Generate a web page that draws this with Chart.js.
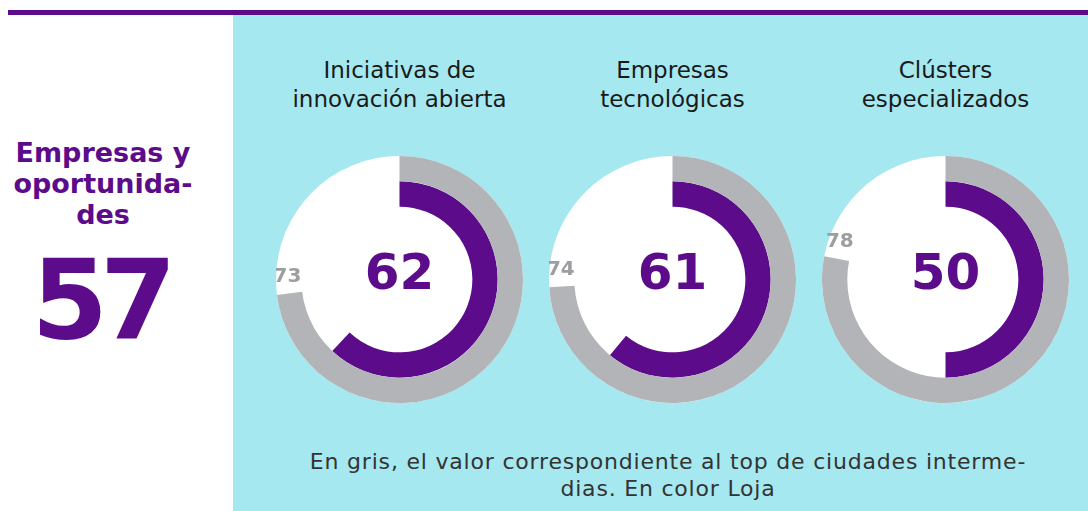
<!DOCTYPE html>
<html>
<head>
<meta charset="utf-8">
<script src="https://cdn.jsdelivr.net/npm/chart.js@4.4.1/dist/chart.umd.min.js"></script>
<style>
  body { margin: 0; width: 1088px; height: 511px; background: #fff; position: relative; overflow: hidden; font-family: "DejaVu Sans", sans-serif; }
  .topline { position: absolute; left: 8px; top: 10px; width: 1080px; height: 5px; background: #5c0b8a; }
  .panel { position: absolute; left: 233px; top: 15px; right: 0; bottom: 0; background: #a6e8f0; }
  .side { position: absolute; left: 0; width: 206px; text-align: center; color: #5c0b8a; font-weight: bold; }
  .side-title { top: 137px; font-size: 27px; line-height: 31px; }
  .side-value { top: 240px; font-size: 110px; line-height: 120px; letter-spacing: -8px; text-indent: -6px; }
  .title { position: absolute; top: 56px; width: 280px; text-align: center; font-size: 23px; line-height: 29px; color: #1a1a1a; }
  .donut { position: absolute; top: 156px; width: 247px; height: 247px; }
  .note { position: absolute; left: 250px; width: 836px; top: 448px; text-align: center; font-size: 22px; line-height: 27px; letter-spacing: 0.8px; color: #333; }
</style>
</head>
<body>
<div class="topline"></div>
<div class="panel"></div>
<div class="side side-title" id="sideTitle"></div>
<div class="side side-value" id="sideValue"></div>
<div id="charts"></div>
<div class="note">En gris, el valor correspondiente al top de ciudades interme-<br>dias. En color Loja</div>
<script>
const categories = [
  ["Iniciativas de", "innovación abierta"],
  ["Empresas", "tecnológicas"],
  ["Clústers", "especializados"]
];
const lojaValues = [62, 61, 50];
const topValues = [73, 74, 78];
const headlineLines = ["Empresas y", "oportunida-", "des"];
const headlineValue = 57;
const centersX = [399.5, 672.5, 945.5];

const purple = "#5c0b8a";
const gray = "#b3b4b8";

document.getElementById("sideTitle").innerHTML = headlineLines.join("<br>");
document.getElementById("sideValue").textContent = headlineValue;

// white disc behind the rings, center number and gray label
const donutText = {
  id: "donutText",
  beforeDatasetsDraw(chart) {
    const arc = chart.getDatasetMeta(0).data[0];
    const c = chart.ctx;
    c.save();
    c.fillStyle = "#fff";
    c.beginPath();
    c.arc(arc.x, arc.y, arc.outerRadius, 0, Math.PI * 2);
    c.fill();
    c.restore();
  },
  afterDatasetsDraw(chart) {
    const c = chart.ctx;
    const outer = chart.getDatasetMeta(0).data[0];
    const inner = chart.getDatasetMeta(1).data[0];
    c.save();
    c.textAlign = "center";
    c.textBaseline = "middle";
    c.fillStyle = purple;
    c.font = "bold 50px 'DejaVu Sans'";
    c.fillText(chart.data.datasets[1].data[0], inner.x, inner.y - 3);

    const e = outer.endAngle;
    const r = (outer.innerRadius + outer.outerRadius) / 2;
    const px = outer.x + Math.cos(e) * r - Math.sin(e) * 17;
    const py = outer.y + Math.sin(e) * r + Math.cos(e) * 17;
    c.fillStyle = "#9d9ea1";
    c.font = "bold 20px 'DejaVu Sans'";
    c.fillText(chart.data.datasets[0].data[0], px, py);
    c.restore();
  }
};

const holder = document.getElementById("charts");
for (let i = 0; i < categories.length; i++) {
  const t = document.createElement("div");
  t.className = "title";
  t.style.left = (centersX[i] - 140) + "px";
  t.innerHTML = categories[i].join("<br>");
  holder.appendChild(t);

  const box = document.createElement("div");
  box.className = "donut";
  box.style.left = (centersX[i] - 123.5) + "px";
  const cv = document.createElement("canvas");
  box.appendChild(cv);
  holder.appendChild(box);

  new Chart(cv, {
    type: "doughnut",
    data: {
      labels: ["valor", "resto"],
      datasets: [
        {
          data: [topValues[i], 100 - topValues[i]],
          backgroundColor: [gray, "rgba(0,0,0,0)"],
          borderWidth: 0,
        },
        {
          data: [lojaValues[i], 100 - lojaValues[i]],
          backgroundColor: [purple, "rgba(0,0,0,0)"],
          borderWidth: 0,
        },
      ],
    },
    options: {
      responsive: true,
      maintainAspectRatio: false,
      animation: false,
      cutout: "59%",
      layout: { padding: 0 },
      plugins: {
        legend: { display: false },
        tooltip: { enabled: false },
      },
    },
    plugins: [donutText],
  });
}
</script>
</body>
</html>
